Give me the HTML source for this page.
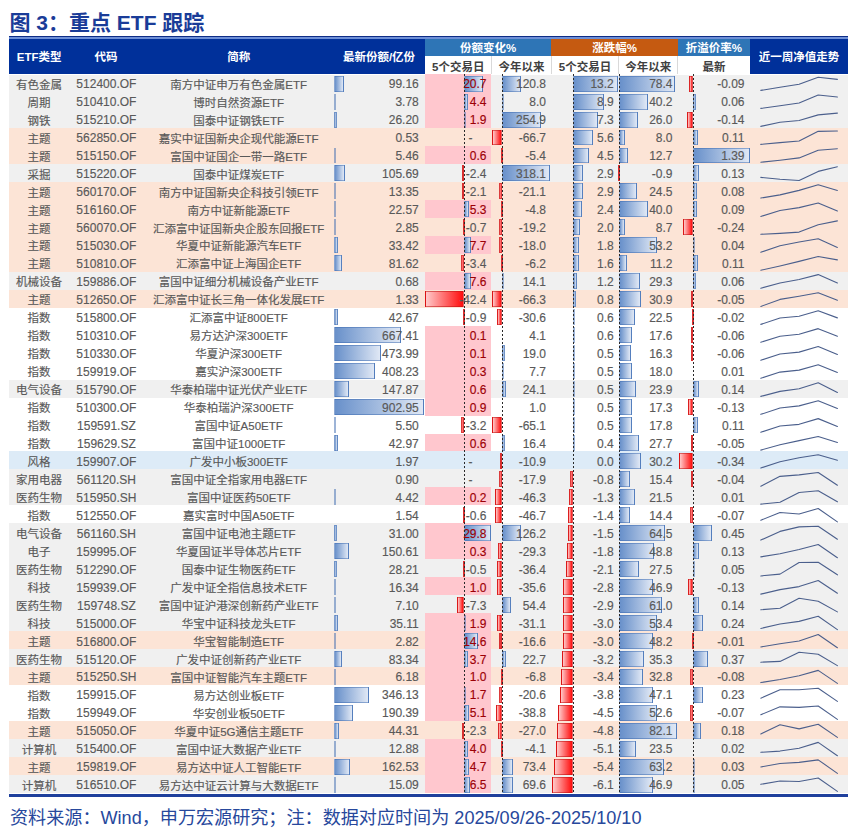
<!DOCTYPE html>
<html lang="zh-CN"><head><meta charset="utf-8"><title>图 3：重点 ETF 跟踪</title>
<style>
*{margin:0;padding:0;box-sizing:border-box}
html,body{width:864px;height:836px;background:#fff;overflow:hidden}
body{position:relative;font-family:"Liberation Sans","Noto Sans CJK SC",sans-serif;color:#595959}
.a{position:absolute}
.t{position:absolute;white-space:nowrap;font-size:12px;line-height:18px;height:18px;-webkit-text-stroke:0.15px currentColor}
.c{text-align:center}
.r{text-align:right}
.h{color:#fff;font-weight:bold;font-size:11.5px;white-space:nowrap;position:absolute;text-align:center}
.sh{color:#404040;font-weight:bold;font-size:11.5px;white-space:nowrap;position:absolute;text-align:center;line-height:17px}
.bp{position:absolute;border:1px solid rgba(60,105,175,.5);background:linear-gradient(to right,#6890ca,#e0e8f5)}
.bn{position:absolute;border:1px solid rgba(190,20,20,.55);background:linear-gradient(to right,#ffcaca,#ff0d0d)}
.ax{position:absolute;width:1px;background:repeating-linear-gradient(to bottom,#2a2a2a 0 2px,transparent 2px 4px)}
.pk{position:absolute;background:#ffc7ce}
.red{color:#9c0006}
</style></head><body>

<div class="a" style="left:9.5px;top:8.5px;font-size:21px;line-height:28px;font-weight:bold;color:#1a3c98;white-space:nowrap">图 3：重点 ETF 跟踪</div>
<div class="a" style="left:9px;top:36px;width:839px;height:1.4px;background:#0d2c86"></div>
<div class="a" style="left:9px;top:37.4px;width:839px;height:1.3px;background:#6e8fd6"></div>
<div class="a" style="left:9px;top:38.6px;width:416px;height:35.199999999999996px;background:#00309a"></div>
<div class="a" style="left:750px;top:38.6px;width:98px;height:35.199999999999996px;background:#00309a"></div>
<div class="a" style="left:425px;top:38.6px;width:126.4px;height:17.699999999999996px;background:#2e75b6"></div>
<div class="a" style="left:551.4px;top:38.6px;width:126.4px;height:17.699999999999996px;background:#c55a11"></div>
<div class="a" style="left:677.8px;top:38.6px;width:72.2px;height:17.699999999999996px;background:#2e75b6"></div>
<div class="a" style="left:425px;top:56.3px;width:325px;height:17.5px;background:#fff"></div>
<div class="a" style="left:490.8px;top:56.3px;width:1px;height:17.5px;background:#d9d9d9"></div>
<div class="a" style="left:550.9px;top:56.3px;width:1px;height:17.5px;background:#d9d9d9"></div>
<div class="a" style="left:618.0px;top:56.3px;width:1px;height:17.5px;background:#d9d9d9"></div>
<div class="a" style="left:677.3px;top:56.3px;width:1px;height:17.5px;background:#d9d9d9"></div>
<div class="h" style="left:-20.9px;top:48.1px;width:120px;line-height:18px">ETF类型</div>
<div class="h" style="left:46.0px;top:48.1px;width:120px;line-height:18px">代码</div>
<div class="h" style="left:178.7px;top:48.1px;width:120px;line-height:18px">简称</div>
<div class="h" style="left:319.0px;top:48.1px;width:120px;line-height:18px">最新份额/亿份</div>
<div class="h" style="left:739.0px;top:48.1px;width:120px;line-height:18px">近一周净值走势</div>
<div class="h" style="left:428.2px;top:39.35px;width:120px;line-height:18px">份额变化%</div>
<div class="h" style="left:554.6px;top:39.35px;width:120px;line-height:18px">涨跌幅%</div>
<div class="h" style="left:653.9px;top:39.35px;width:120px;line-height:18px">折溢价率%</div>
<div class="sh" style="left:398.2px;top:57.55px;width:120px;line-height:18px">5个交易日</div>
<div class="sh" style="left:461.4px;top:57.55px;width:120px;line-height:18px">今年以来</div>
<div class="sh" style="left:525.0px;top:57.55px;width:120px;line-height:18px">5个交易日</div>
<div class="sh" style="left:588.2px;top:57.55px;width:120px;line-height:18px">今年以来</div>
<div class="sh" style="left:653.9px;top:57.55px;width:120px;line-height:18px">最新</div>
<div class="a" style="left:9px;top:74.000px;width:839px;height:17.995px;background:#f0f0f0"></div>
<div class="pk" style="left:425px;top:74.000px;width:66.3px;height:17.995px"></div>
<div class="bp" style="left:334.20px;top:75.60px;width:9.88px;height:15.97px"></div>
<div class="bp" style="left:464px;top:75.60px;width:19.36px;height:15.97px"></div>
<div class="bp" style="left:502px;top:75.60px;width:18.54px;height:15.97px"></div>
<div class="bp" style="left:573px;top:75.60px;width:45.30px;height:15.97px"></div>
<div class="bp" style="left:619px;top:75.60px;width:55.81px;height:15.97px"></div>
<div class="bn" style="left:689.34px;top:75.60px;width:3.96px;height:15.97px"></div>
<div class="t c" style="left:-0.8999999999999986px;top:75.70px;width:80px;font-size:11.5px">有色金属</div>
<div class="t c" style="left:61.400000000000006px;top:75.30px;width:90px">512400.OF</div>
<div class="t c" style="left:138.7px;top:75.70px;width:200px;font-size:11.5px">南方中证申万有色金属ETF</div>
<div class="t r " style="left:338.8px;top:75.30px;width:80px">99.16</div>
<div class="t r red" style="left:406.5px;top:75.30px;width:80px">20.7</div>
<div class="t r " style="left:466.0px;top:75.30px;width:80px">120.8</div>
<div class="t r " style="left:533.8px;top:75.30px;width:80px">13.2</div>
<div class="t r " style="left:592.5px;top:75.30px;width:80px">78.4</div>
<div class="t r " style="left:664.5px;top:75.30px;width:80px">-0.09</div>
<div class="a" style="left:9px;top:91.975px;width:839px;height:17.995px;background:#f0f0f0"></div>
<div class="pk" style="left:425px;top:91.975px;width:66.3px;height:17.995px"></div>
<div class="bp" style="left:334.20px;top:93.57px;width:1.00px;height:15.97px"></div>
<div class="bp" style="left:464px;top:93.57px;width:4.35px;height:15.97px"></div>
<div class="bp" style="left:502px;top:93.57px;width:1.51px;height:15.97px"></div>
<div class="bp" style="left:573px;top:93.57px;width:30.83px;height:15.97px"></div>
<div class="bp" style="left:619px;top:93.57px;width:28.76px;height:15.97px"></div>
<div class="bp" style="left:693px;top:93.57px;width:2.74px;height:15.97px"></div>
<div class="t c" style="left:-0.8999999999999986px;top:93.67px;width:80px;font-size:11.5px">周期</div>
<div class="t c" style="left:61.400000000000006px;top:93.27px;width:90px">510410.OF</div>
<div class="t c" style="left:138.7px;top:93.67px;width:200px;font-size:11.5px">博时自然资源ETF</div>
<div class="t r " style="left:338.8px;top:93.27px;width:80px">3.78</div>
<div class="t r red" style="left:406.5px;top:93.27px;width:80px">4.4</div>
<div class="t r " style="left:466.0px;top:93.27px;width:80px">8.0</div>
<div class="t r " style="left:533.8px;top:93.27px;width:80px">8.9</div>
<div class="t r " style="left:592.5px;top:93.27px;width:80px">40.2</div>
<div class="t r " style="left:664.5px;top:93.27px;width:80px">0.06</div>
<div class="a" style="left:9px;top:109.950px;width:839px;height:17.995px;background:#f0f0f0"></div>
<div class="pk" style="left:425px;top:109.950px;width:66.3px;height:17.995px"></div>
<div class="bp" style="left:334.20px;top:111.55px;width:2.61px;height:15.97px"></div>
<div class="bp" style="left:464px;top:111.55px;width:2.05px;height:15.97px"></div>
<div class="bp" style="left:502px;top:111.55px;width:38.79px;height:15.97px"></div>
<div class="bp" style="left:573px;top:111.55px;width:25.34px;height:15.97px"></div>
<div class="bp" style="left:619px;top:111.55px;width:18.71px;height:15.97px"></div>
<div class="bn" style="left:687.30px;top:111.55px;width:6.00px;height:15.97px"></div>
<div class="t c" style="left:-0.8999999999999986px;top:111.65px;width:80px;font-size:11.5px">钢铁</div>
<div class="t c" style="left:61.400000000000006px;top:111.25px;width:90px">515210.OF</div>
<div class="t c" style="left:138.7px;top:111.65px;width:200px;font-size:11.5px">国泰中证钢铁ETF</div>
<div class="t r " style="left:338.8px;top:111.25px;width:80px">26.20</div>
<div class="t r red" style="left:406.5px;top:111.25px;width:80px">1.9</div>
<div class="t r " style="left:466.0px;top:111.25px;width:80px">254.9</div>
<div class="t r " style="left:533.8px;top:111.25px;width:80px">7.3</div>
<div class="t r " style="left:592.5px;top:111.25px;width:80px">26.0</div>
<div class="t r " style="left:664.5px;top:111.25px;width:80px">-0.14</div>
<div class="a" style="left:9px;top:127.925px;width:839px;height:17.995px;background:#fce4d6"></div>
<div class="bn" style="left:491.93px;top:129.53px;width:10.37px;height:15.97px"></div>
<div class="bp" style="left:573px;top:129.53px;width:19.51px;height:15.97px"></div>
<div class="bp" style="left:619px;top:129.53px;width:5.96px;height:15.97px"></div>
<div class="bp" style="left:693px;top:129.53px;width:4.78px;height:15.97px"></div>
<div class="t c" style="left:-0.8999999999999986px;top:129.63px;width:80px;font-size:11.5px">主题</div>
<div class="t c" style="left:61.400000000000006px;top:129.23px;width:90px">562850.OF</div>
<div class="t c" style="left:138.7px;top:129.63px;width:200px;font-size:11.5px">嘉实中证国新央企现代能源ETF</div>
<div class="t r " style="left:338.8px;top:129.23px;width:80px">0.53</div>
<div class="t c" style="left:460.5px;top:129.23px;width:20px">-</div>
<div class="t r " style="left:466.0px;top:129.23px;width:80px">-66.7</div>
<div class="t r " style="left:533.8px;top:129.23px;width:80px">5.6</div>
<div class="t r " style="left:592.5px;top:129.23px;width:80px">8.0</div>
<div class="t r " style="left:664.5px;top:129.23px;width:80px">0.11</div>
<div class="a" style="left:9px;top:145.900px;width:839px;height:17.995px;background:#fce4d6"></div>
<div class="pk" style="left:425px;top:145.900px;width:66.3px;height:17.995px"></div>
<div class="bp" style="left:334.20px;top:147.50px;width:1.00px;height:15.97px"></div>
<div class="bn" style="left:501.18px;top:147.50px;width:1.12px;height:15.97px;background:#e8393d;border-color:#d83030"></div>
<div class="bp" style="left:573px;top:147.50px;width:15.74px;height:15.97px"></div>
<div class="bp" style="left:619px;top:147.50px;width:9.29px;height:15.97px"></div>
<div class="bp" style="left:693px;top:147.50px;width:56.87px;height:15.97px"></div>
<div class="t c" style="left:-0.8999999999999986px;top:147.60px;width:80px;font-size:11.5px">主题</div>
<div class="t c" style="left:61.400000000000006px;top:147.20px;width:90px">515150.OF</div>
<div class="t c" style="left:138.7px;top:147.60px;width:200px;font-size:11.5px">富国中证国企一带一路ETF</div>
<div class="t r " style="left:338.8px;top:147.20px;width:80px">5.46</div>
<div class="t r red" style="left:406.5px;top:147.20px;width:80px">0.6</div>
<div class="t r " style="left:466.0px;top:147.20px;width:80px">-5.4</div>
<div class="t r " style="left:533.8px;top:147.20px;width:80px">4.5</div>
<div class="t r " style="left:592.5px;top:147.20px;width:80px">12.7</div>
<div class="t r " style="left:664.5px;top:147.20px;width:80px">1.39</div>
<div class="a" style="left:9px;top:163.875px;width:839px;height:17.995px;background:#f0f0f0"></div>
<div class="bp" style="left:334.20px;top:165.47px;width:10.53px;height:15.97px"></div>
<div class="bn" style="left:461.79px;top:165.47px;width:2.51px;height:15.97px;background:#e8393d;border-color:#d83030"></div>
<div class="bp" style="left:502px;top:165.47px;width:48.33px;height:15.97px"></div>
<div class="bp" style="left:573px;top:165.47px;width:10.25px;height:15.97px"></div>
<div class="bn" style="left:618.30px;top:165.47px;width:1.00px;height:15.97px;background:#e8393d;border-color:#d83030"></div>
<div class="bp" style="left:693px;top:165.47px;width:5.59px;height:15.97px"></div>
<div class="t c" style="left:-0.8999999999999986px;top:165.58px;width:80px;font-size:11.5px">采掘</div>
<div class="t c" style="left:61.400000000000006px;top:165.18px;width:90px">515220.OF</div>
<div class="t c" style="left:138.7px;top:165.58px;width:200px;font-size:11.5px">国泰中证煤炭ETF</div>
<div class="t r " style="left:338.8px;top:165.18px;width:80px">105.69</div>
<div class="t r " style="left:406.5px;top:165.18px;width:80px">-2.4</div>
<div class="t r " style="left:466.0px;top:165.18px;width:80px">318.1</div>
<div class="t r " style="left:533.8px;top:165.18px;width:80px">2.9</div>
<div class="t r " style="left:592.5px;top:165.18px;width:80px">-0.9</div>
<div class="t r " style="left:664.5px;top:165.18px;width:80px">0.13</div>
<div class="a" style="left:9px;top:181.850px;width:839px;height:17.995px;background:#fce4d6"></div>
<div class="bp" style="left:334.20px;top:183.45px;width:1.33px;height:15.97px"></div>
<div class="bn" style="left:462.07px;top:183.45px;width:2.23px;height:15.97px;background:#e8393d;border-color:#d83030"></div>
<div class="bn" style="left:498.81px;top:183.45px;width:3.49px;height:15.97px"></div>
<div class="bp" style="left:573px;top:183.45px;width:10.25px;height:15.97px"></div>
<div class="bp" style="left:619px;top:183.45px;width:17.65px;height:15.97px"></div>
<div class="bp" style="left:693px;top:183.45px;width:3.56px;height:15.97px"></div>
<div class="t c" style="left:-0.8999999999999986px;top:183.55px;width:80px;font-size:11.5px">主题</div>
<div class="t c" style="left:61.400000000000006px;top:183.15px;width:90px">560170.OF</div>
<div class="t c" style="left:138.7px;top:183.55px;width:200px;font-size:11.5px">南方中证国新央企科技引领ETF</div>
<div class="t r " style="left:338.8px;top:183.15px;width:80px">13.35</div>
<div class="t r " style="left:406.5px;top:183.15px;width:80px">-2.1</div>
<div class="t r " style="left:466.0px;top:183.15px;width:80px">-21.1</div>
<div class="t r " style="left:533.8px;top:183.15px;width:80px">2.9</div>
<div class="t r " style="left:592.5px;top:183.15px;width:80px">24.5</div>
<div class="t r " style="left:664.5px;top:183.15px;width:80px">0.08</div>
<div class="a" style="left:9px;top:199.825px;width:839px;height:17.995px;background:#fce4d6"></div>
<div class="pk" style="left:425px;top:199.825px;width:66.3px;height:17.995px"></div>
<div class="bp" style="left:334.20px;top:201.43px;width:2.25px;height:15.97px"></div>
<div class="bp" style="left:464px;top:201.43px;width:5.18px;height:15.97px"></div>
<div class="bn" style="left:501.28px;top:201.43px;width:1.02px;height:15.97px;background:#e8393d;border-color:#d83030"></div>
<div class="bp" style="left:573px;top:201.43px;width:8.53px;height:15.97px"></div>
<div class="bp" style="left:619px;top:201.43px;width:28.62px;height:15.97px"></div>
<div class="bp" style="left:693px;top:201.43px;width:3.96px;height:15.97px"></div>
<div class="t c" style="left:-0.8999999999999986px;top:201.53px;width:80px;font-size:11.5px">主题</div>
<div class="t c" style="left:61.400000000000006px;top:201.13px;width:90px">516160.OF</div>
<div class="t c" style="left:138.7px;top:201.53px;width:200px;font-size:11.5px">南方中证新能源ETF</div>
<div class="t r " style="left:338.8px;top:201.13px;width:80px">22.57</div>
<div class="t r red" style="left:406.5px;top:201.13px;width:80px">5.3</div>
<div class="t r " style="left:466.0px;top:201.13px;width:80px">-4.8</div>
<div class="t r " style="left:533.8px;top:201.13px;width:80px">2.4</div>
<div class="t r " style="left:592.5px;top:201.13px;width:80px">40.0</div>
<div class="t r " style="left:664.5px;top:201.13px;width:80px">0.09</div>
<div class="a" style="left:9px;top:217.800px;width:839px;height:17.995px;background:#fce4d6"></div>
<div class="bp" style="left:334.20px;top:219.40px;width:1.00px;height:15.97px"></div>
<div class="bn" style="left:463.30px;top:219.40px;width:1.00px;height:15.97px;background:#e8393d;border-color:#d83030"></div>
<div class="bn" style="left:499.10px;top:219.40px;width:3.20px;height:15.97px"></div>
<div class="bp" style="left:573px;top:219.40px;width:7.16px;height:15.97px"></div>
<div class="bp" style="left:619px;top:219.40px;width:6.46px;height:15.97px"></div>
<div class="bn" style="left:683.23px;top:219.40px;width:10.07px;height:15.97px"></div>
<div class="t c" style="left:-0.8999999999999986px;top:219.50px;width:80px;font-size:11.5px">主题</div>
<div class="t c" style="left:61.400000000000006px;top:219.10px;width:90px">560070.OF</div>
<div class="t c" style="left:138.7px;top:219.50px;width:200px;font-size:11.5px">汇添富中证国新央企股东回报ETF</div>
<div class="t r " style="left:338.8px;top:219.10px;width:80px">2.85</div>
<div class="t r " style="left:406.5px;top:219.10px;width:80px">-0.7</div>
<div class="t r " style="left:466.0px;top:219.10px;width:80px">-19.2</div>
<div class="t r " style="left:533.8px;top:219.10px;width:80px">2.0</div>
<div class="t r " style="left:592.5px;top:219.10px;width:80px">8.7</div>
<div class="t r " style="left:664.5px;top:219.10px;width:80px">-0.24</div>
<div class="a" style="left:9px;top:235.775px;width:839px;height:17.995px;background:#fce4d6"></div>
<div class="pk" style="left:425px;top:235.775px;width:66.3px;height:17.995px"></div>
<div class="bp" style="left:334.20px;top:237.38px;width:3.33px;height:15.97px"></div>
<div class="bp" style="left:464px;top:237.38px;width:7.39px;height:15.97px"></div>
<div class="bn" style="left:499.28px;top:237.38px;width:3.02px;height:15.97px"></div>
<div class="bp" style="left:573px;top:237.38px;width:6.47px;height:15.97px"></div>
<div class="bp" style="left:619px;top:237.38px;width:37.97px;height:15.97px"></div>
<div class="bp" style="left:693px;top:237.38px;width:1.93px;height:15.97px"></div>
<div class="t c" style="left:-0.8999999999999986px;top:237.48px;width:80px;font-size:11.5px">主题</div>
<div class="t c" style="left:61.400000000000006px;top:237.08px;width:90px">515030.OF</div>
<div class="t c" style="left:138.7px;top:237.48px;width:200px;font-size:11.5px">华夏中证新能源汽车ETF</div>
<div class="t r " style="left:338.8px;top:237.08px;width:80px">33.42</div>
<div class="t r red" style="left:406.5px;top:237.08px;width:80px">7.7</div>
<div class="t r " style="left:466.0px;top:237.08px;width:80px">-18.0</div>
<div class="t r " style="left:533.8px;top:237.08px;width:80px">1.8</div>
<div class="t r " style="left:592.5px;top:237.08px;width:80px">53.2</div>
<div class="t r " style="left:664.5px;top:237.08px;width:80px">0.04</div>
<div class="a" style="left:9px;top:253.750px;width:839px;height:17.995px;background:#fce4d6"></div>
<div class="bp" style="left:334.20px;top:255.35px;width:8.14px;height:15.97px"></div>
<div class="bn" style="left:460.87px;top:255.35px;width:3.43px;height:15.97px"></div>
<div class="bn" style="left:501.06px;top:255.35px;width:1.24px;height:15.97px;background:#e8393d;border-color:#d83030"></div>
<div class="bp" style="left:573px;top:255.35px;width:5.79px;height:15.97px"></div>
<div class="bp" style="left:619px;top:255.35px;width:8.23px;height:15.97px"></div>
<div class="bp" style="left:693px;top:255.35px;width:4.78px;height:15.97px"></div>
<div class="t c" style="left:-0.8999999999999986px;top:255.45px;width:80px;font-size:11.5px">主题</div>
<div class="t c" style="left:61.400000000000006px;top:255.05px;width:90px">510810.OF</div>
<div class="t c" style="left:138.7px;top:255.45px;width:200px;font-size:11.5px">汇添富中证上海国企ETF</div>
<div class="t r " style="left:338.8px;top:255.05px;width:80px">81.62</div>
<div class="t r " style="left:406.5px;top:255.05px;width:80px">-3.4</div>
<div class="t r " style="left:466.0px;top:255.05px;width:80px">-6.2</div>
<div class="t r " style="left:533.8px;top:255.05px;width:80px">1.6</div>
<div class="t r " style="left:592.5px;top:255.05px;width:80px">11.2</div>
<div class="t r " style="left:664.5px;top:255.05px;width:80px">0.11</div>
<div class="a" style="left:9px;top:271.725px;width:839px;height:17.995px;background:#f0f0f0"></div>
<div class="pk" style="left:425px;top:271.725px;width:66.3px;height:17.995px"></div>
<div class="bp" style="left:464px;top:273.33px;width:7.30px;height:15.97px"></div>
<div class="bp" style="left:502px;top:273.33px;width:2.43px;height:15.97px"></div>
<div class="bp" style="left:573px;top:273.33px;width:4.42px;height:15.97px"></div>
<div class="bp" style="left:619px;top:273.33px;width:21.04px;height:15.97px"></div>
<div class="bp" style="left:693px;top:273.33px;width:2.74px;height:15.97px"></div>
<div class="t c" style="left:-0.8999999999999986px;top:273.43px;width:80px;font-size:11.5px">机械设备</div>
<div class="t c" style="left:61.400000000000006px;top:273.03px;width:90px">159886.OF</div>
<div class="t c" style="left:138.7px;top:273.43px;width:200px;font-size:11.5px">富国中证细分机械设备产业ETF</div>
<div class="t r " style="left:338.8px;top:273.03px;width:80px">0.68</div>
<div class="t r red" style="left:406.5px;top:273.03px;width:80px">7.6</div>
<div class="t r " style="left:466.0px;top:273.03px;width:80px">14.1</div>
<div class="t r " style="left:533.8px;top:273.03px;width:80px">1.2</div>
<div class="t r " style="left:592.5px;top:273.03px;width:80px">29.3</div>
<div class="t r " style="left:664.5px;top:273.03px;width:80px">0.06</div>
<div class="a" style="left:9px;top:289.700px;width:839px;height:17.995px;background:#fce4d6"></div>
<div class="bn" style="left:424.95px;top:291.30px;width:39.35px;height:15.97px"></div>
<div class="bn" style="left:491.99px;top:291.30px;width:10.31px;height:15.97px"></div>
<div class="bp" style="left:573px;top:291.30px;width:3.04px;height:15.97px"></div>
<div class="bp" style="left:619px;top:291.30px;width:22.18px;height:15.97px"></div>
<div class="bn" style="left:690.96px;top:291.30px;width:2.33px;height:15.97px;background:#e8393d;border-color:#d83030"></div>
<div class="t c" style="left:-0.8999999999999986px;top:291.40px;width:80px;font-size:11.5px">主题</div>
<div class="t c" style="left:61.400000000000006px;top:291.00px;width:90px">512650.OF</div>
<div class="t c" style="left:138.7px;top:291.40px;width:200px;font-size:11.5px">汇添富中证长三角一体化发展ETF</div>
<div class="t r " style="left:338.8px;top:291.00px;width:80px">1.33</div>
<div class="t r " style="left:406.5px;top:291.00px;width:80px">-42.4</div>
<div class="t r " style="left:466.0px;top:291.00px;width:80px">-66.3</div>
<div class="t r " style="left:533.8px;top:291.00px;width:80px">0.8</div>
<div class="t r " style="left:592.5px;top:291.00px;width:80px">30.9</div>
<div class="t r " style="left:664.5px;top:291.00px;width:80px">-0.05</div>
<div class="a" style="left:9px;top:307.675px;width:839px;height:17.995px;background:#ffffff"></div>
<div class="bp" style="left:334.20px;top:309.28px;width:4.25px;height:15.97px"></div>
<div class="bn" style="left:463.17px;top:309.28px;width:1.13px;height:15.97px;background:#e8393d;border-color:#d83030"></div>
<div class="bn" style="left:497.38px;top:309.28px;width:4.92px;height:15.97px"></div>
<div class="bp" style="left:573px;top:309.28px;width:2.36px;height:15.97px"></div>
<div class="bp" style="left:619px;top:309.28px;width:16.23px;height:15.97px"></div>
<div class="bn" style="left:692.19px;top:309.28px;width:1.11px;height:15.97px;background:#e8393d;border-color:#d83030"></div>
<div class="t c" style="left:-0.8999999999999986px;top:309.38px;width:80px;font-size:11.5px">指数</div>
<div class="t c" style="left:61.400000000000006px;top:308.98px;width:90px">515800.OF</div>
<div class="t c" style="left:138.7px;top:309.38px;width:200px;font-size:11.5px">汇添富中证800ETF</div>
<div class="t r " style="left:338.8px;top:308.98px;width:80px">42.67</div>
<div class="t r " style="left:406.5px;top:308.98px;width:80px">-0.9</div>
<div class="t r " style="left:466.0px;top:308.98px;width:80px">-30.6</div>
<div class="t r " style="left:533.8px;top:308.98px;width:80px">0.6</div>
<div class="t r " style="left:592.5px;top:308.98px;width:80px">22.5</div>
<div class="t r " style="left:664.5px;top:308.98px;width:80px">-0.02</div>
<div class="a" style="left:9px;top:325.650px;width:839px;height:17.995px;background:#ffffff"></div>
<div class="pk" style="left:425px;top:325.650px;width:66.3px;height:17.995px"></div>
<div class="bp" style="left:334.20px;top:327.25px;width:66.52px;height:15.97px"></div>
<div class="bp" style="left:573px;top:327.25px;width:2.36px;height:15.97px"></div>
<div class="bp" style="left:619px;top:327.25px;width:12.76px;height:15.97px"></div>
<div class="bn" style="left:690.56px;top:327.25px;width:2.74px;height:15.97px;background:#e8393d;border-color:#d83030"></div>
<div class="t c" style="left:-0.8999999999999986px;top:327.35px;width:80px;font-size:11.5px">指数</div>
<div class="t c" style="left:61.400000000000006px;top:326.95px;width:90px">510310.OF</div>
<div class="t c" style="left:138.7px;top:327.35px;width:200px;font-size:11.5px">易方达沪深300ETF</div>
<div class="t r " style="left:338.8px;top:326.95px;width:80px">667.41</div>
<div class="t r red" style="left:406.5px;top:326.95px;width:80px">0.1</div>
<div class="t r " style="left:466.0px;top:326.95px;width:80px">4.1</div>
<div class="t r " style="left:533.8px;top:326.95px;width:80px">0.6</div>
<div class="t r " style="left:592.5px;top:326.95px;width:80px">17.6</div>
<div class="t r " style="left:664.5px;top:326.95px;width:80px">-0.06</div>
<div class="a" style="left:9px;top:343.625px;width:839px;height:17.995px;background:#ffffff"></div>
<div class="pk" style="left:425px;top:343.625px;width:66.3px;height:17.995px"></div>
<div class="bp" style="left:334.20px;top:345.23px;width:47.24px;height:15.97px"></div>
<div class="bp" style="left:502px;top:345.23px;width:3.17px;height:15.97px"></div>
<div class="bp" style="left:573px;top:345.23px;width:2.02px;height:15.97px"></div>
<div class="bp" style="left:619px;top:345.23px;width:11.84px;height:15.97px"></div>
<div class="bn" style="left:690.56px;top:345.23px;width:2.74px;height:15.97px;background:#e8393d;border-color:#d83030"></div>
<div class="t c" style="left:-0.8999999999999986px;top:345.32px;width:80px;font-size:11.5px">指数</div>
<div class="t c" style="left:61.400000000000006px;top:344.93px;width:90px">510330.OF</div>
<div class="t c" style="left:138.7px;top:345.32px;width:200px;font-size:11.5px">华夏沪深300ETF</div>
<div class="t r " style="left:338.8px;top:344.93px;width:80px">473.99</div>
<div class="t r red" style="left:406.5px;top:344.93px;width:80px">0.1</div>
<div class="t r " style="left:466.0px;top:344.93px;width:80px">19.0</div>
<div class="t r " style="left:533.8px;top:344.93px;width:80px">0.5</div>
<div class="t r " style="left:592.5px;top:344.93px;width:80px">16.3</div>
<div class="t r " style="left:664.5px;top:344.93px;width:80px">-0.06</div>
<div class="a" style="left:9px;top:361.600px;width:839px;height:17.995px;background:#ffffff"></div>
<div class="pk" style="left:425px;top:361.600px;width:66.3px;height:17.995px"></div>
<div class="bp" style="left:334.20px;top:363.20px;width:40.69px;height:15.97px"></div>
<div class="bp" style="left:502px;top:363.20px;width:1.46px;height:15.97px"></div>
<div class="bp" style="left:573px;top:363.20px;width:2.02px;height:15.97px"></div>
<div class="bp" style="left:619px;top:363.20px;width:13.04px;height:15.97px"></div>
<div class="t c" style="left:-0.8999999999999986px;top:363.30px;width:80px;font-size:11.5px">指数</div>
<div class="t c" style="left:61.400000000000006px;top:362.90px;width:90px">159919.OF</div>
<div class="t c" style="left:138.7px;top:363.30px;width:200px;font-size:11.5px">嘉实沪深300ETF</div>
<div class="t r " style="left:338.8px;top:362.90px;width:80px">408.23</div>
<div class="t r red" style="left:406.5px;top:362.90px;width:80px">0.3</div>
<div class="t r " style="left:466.0px;top:362.90px;width:80px">7.7</div>
<div class="t r " style="left:533.8px;top:362.90px;width:80px">0.5</div>
<div class="t r " style="left:592.5px;top:362.90px;width:80px">18.0</div>
<div class="t r " style="left:664.5px;top:362.90px;width:80px">0.01</div>
<div class="a" style="left:9px;top:379.575px;width:839px;height:17.995px;background:#f0f0f0"></div>
<div class="pk" style="left:425px;top:379.575px;width:66.3px;height:17.995px"></div>
<div class="bp" style="left:334.20px;top:381.18px;width:14.74px;height:15.97px"></div>
<div class="bp" style="left:502px;top:381.18px;width:3.94px;height:15.97px"></div>
<div class="bp" style="left:573px;top:381.18px;width:2.02px;height:15.97px"></div>
<div class="bp" style="left:619px;top:381.18px;width:17.22px;height:15.97px"></div>
<div class="bp" style="left:693px;top:381.18px;width:6.00px;height:15.97px"></div>
<div class="t c" style="left:-0.8999999999999986px;top:381.28px;width:80px;font-size:11.5px">电气设备</div>
<div class="t c" style="left:61.400000000000006px;top:380.88px;width:90px">515790.OF</div>
<div class="t c" style="left:138.7px;top:381.28px;width:200px;font-size:11.5px">华泰柏瑞中证光伏产业ETF</div>
<div class="t r " style="left:338.8px;top:380.88px;width:80px">147.87</div>
<div class="t r red" style="left:406.5px;top:380.88px;width:80px">0.6</div>
<div class="t r " style="left:466.0px;top:380.88px;width:80px">24.1</div>
<div class="t r " style="left:533.8px;top:380.88px;width:80px">0.5</div>
<div class="t r " style="left:592.5px;top:380.88px;width:80px">23.9</div>
<div class="t r " style="left:664.5px;top:380.88px;width:80px">0.14</div>
<div class="a" style="left:9px;top:397.550px;width:839px;height:17.995px;background:#ffffff"></div>
<div class="pk" style="left:425px;top:397.550px;width:66.3px;height:17.995px"></div>
<div class="bp" style="left:334.20px;top:399.15px;width:90.00px;height:15.97px"></div>
<div class="bp" style="left:573px;top:399.15px;width:2.02px;height:15.97px"></div>
<div class="bp" style="left:619px;top:399.15px;width:12.55px;height:15.97px"></div>
<div class="bn" style="left:687.71px;top:399.15px;width:5.59px;height:15.97px"></div>
<div class="t c" style="left:-0.8999999999999986px;top:399.25px;width:80px;font-size:11.5px">指数</div>
<div class="t c" style="left:61.400000000000006px;top:398.85px;width:90px">510300.OF</div>
<div class="t c" style="left:138.7px;top:399.25px;width:200px;font-size:11.5px">华泰柏瑞沪深300ETF</div>
<div class="t r " style="left:338.8px;top:398.85px;width:80px">902.95</div>
<div class="t r red" style="left:406.5px;top:398.85px;width:80px">0.9</div>
<div class="t r " style="left:466.0px;top:398.85px;width:80px">1.0</div>
<div class="t r " style="left:533.8px;top:398.85px;width:80px">0.5</div>
<div class="t r " style="left:592.5px;top:398.85px;width:80px">17.3</div>
<div class="t r " style="left:664.5px;top:398.85px;width:80px">-0.13</div>
<div class="a" style="left:9px;top:415.525px;width:839px;height:17.995px;background:#ffffff"></div>
<div class="bp" style="left:334.20px;top:417.13px;width:1.00px;height:15.97px"></div>
<div class="bn" style="left:461.05px;top:417.13px;width:3.25px;height:15.97px"></div>
<div class="bn" style="left:492.17px;top:417.13px;width:10.13px;height:15.97px"></div>
<div class="bp" style="left:573px;top:417.13px;width:2.02px;height:15.97px"></div>
<div class="bp" style="left:619px;top:417.13px;width:12.90px;height:15.97px"></div>
<div class="bp" style="left:693px;top:417.13px;width:4.78px;height:15.97px"></div>
<div class="t c" style="left:-0.8999999999999986px;top:417.23px;width:80px;font-size:11.5px">指数</div>
<div class="t c" style="left:61.400000000000006px;top:416.83px;width:90px">159591.SZ</div>
<div class="t c" style="left:138.7px;top:417.23px;width:200px;font-size:11.5px">富国中证A50ETF</div>
<div class="t r " style="left:338.8px;top:416.83px;width:80px">5.50</div>
<div class="t r " style="left:406.5px;top:416.83px;width:80px">-3.2</div>
<div class="t r " style="left:466.0px;top:416.83px;width:80px">-65.1</div>
<div class="t r " style="left:533.8px;top:416.83px;width:80px">0.5</div>
<div class="t r " style="left:592.5px;top:416.83px;width:80px">17.8</div>
<div class="t r " style="left:664.5px;top:416.83px;width:80px">0.11</div>
<div class="a" style="left:9px;top:433.500px;width:839px;height:17.995px;background:#ffffff"></div>
<div class="pk" style="left:425px;top:433.500px;width:66.3px;height:17.995px"></div>
<div class="bp" style="left:334.20px;top:435.10px;width:4.28px;height:15.97px"></div>
<div class="bp" style="left:502px;top:435.10px;width:2.78px;height:15.97px"></div>
<div class="bp" style="left:573px;top:435.10px;width:1.67px;height:15.97px"></div>
<div class="bp" style="left:619px;top:435.10px;width:19.91px;height:15.97px"></div>
<div class="bn" style="left:690.96px;top:435.10px;width:2.33px;height:15.97px;background:#e8393d;border-color:#d83030"></div>
<div class="t c" style="left:-0.8999999999999986px;top:435.20px;width:80px;font-size:11.5px">指数</div>
<div class="t c" style="left:61.400000000000006px;top:434.80px;width:90px">159629.SZ</div>
<div class="t c" style="left:138.7px;top:435.20px;width:200px;font-size:11.5px">富国中证1000ETF</div>
<div class="t r " style="left:338.8px;top:434.80px;width:80px">42.97</div>
<div class="t r red" style="left:406.5px;top:434.80px;width:80px">0.6</div>
<div class="t r " style="left:466.0px;top:434.80px;width:80px">16.4</div>
<div class="t r " style="left:533.8px;top:434.80px;width:80px">0.4</div>
<div class="t r " style="left:592.5px;top:434.80px;width:80px">27.7</div>
<div class="t r " style="left:664.5px;top:434.80px;width:80px">-0.05</div>
<div class="a" style="left:9px;top:451.475px;width:839px;height:17.995px;background:#ddebf7"></div>
<div class="bn" style="left:500.35px;top:453.08px;width:1.95px;height:15.97px;background:#e8393d;border-color:#d83030"></div>
<div class="bp" style="left:619px;top:453.08px;width:21.68px;height:15.97px"></div>
<div class="bn" style="left:679.16px;top:453.08px;width:14.14px;height:15.97px"></div>
<div class="t c" style="left:-0.8999999999999986px;top:453.18px;width:80px;font-size:11.5px">风格</div>
<div class="t c" style="left:61.400000000000006px;top:452.78px;width:90px">159907.OF</div>
<div class="t c" style="left:138.7px;top:453.18px;width:200px;font-size:11.5px">广发中小板300ETF</div>
<div class="t r " style="left:338.8px;top:452.78px;width:80px">1.97</div>
<div class="t c" style="left:460.5px;top:452.78px;width:20px">-</div>
<div class="t r " style="left:466.0px;top:452.78px;width:80px">-10.9</div>
<div class="t r " style="left:533.8px;top:452.78px;width:80px">0.0</div>
<div class="t r " style="left:592.5px;top:452.78px;width:80px">30.2</div>
<div class="t r " style="left:664.5px;top:452.78px;width:80px">-0.34</div>
<div class="a" style="left:9px;top:469.450px;width:839px;height:17.995px;background:#f0f0f0"></div>
<div class="bn" style="left:499.30px;top:471.05px;width:3.00px;height:15.97px"></div>
<div class="bn" style="left:570.26px;top:471.05px;width:3.04px;height:15.97px"></div>
<div class="bp" style="left:619px;top:471.05px;width:11.20px;height:15.97px"></div>
<div class="bn" style="left:691.37px;top:471.05px;width:1.93px;height:15.97px;background:#e8393d;border-color:#d83030"></div>
<div class="t c" style="left:-0.8999999999999986px;top:471.15px;width:80px;font-size:11.5px">家用电器</div>
<div class="t c" style="left:61.400000000000006px;top:470.75px;width:90px">561120.SH</div>
<div class="t c" style="left:138.7px;top:471.15px;width:200px;font-size:11.5px">富国中证全指家用电器ETF</div>
<div class="t r " style="left:338.8px;top:470.75px;width:80px">0.90</div>
<div class="t c" style="left:460.5px;top:470.75px;width:20px">-</div>
<div class="t r " style="left:466.0px;top:470.75px;width:80px">-17.9</div>
<div class="t r " style="left:533.8px;top:470.75px;width:80px">-0.8</div>
<div class="t r " style="left:592.5px;top:470.75px;width:80px">15.4</div>
<div class="t r " style="left:664.5px;top:470.75px;width:80px">-0.04</div>
<div class="a" style="left:9px;top:487.425px;width:839px;height:17.995px;background:#f0f0f0"></div>
<div class="pk" style="left:425px;top:487.425px;width:66.3px;height:17.995px"></div>
<div class="bp" style="left:334.20px;top:489.03px;width:1.00px;height:15.97px"></div>
<div class="bn" style="left:495.01px;top:489.03px;width:7.29px;height:15.97px"></div>
<div class="bn" style="left:568.54px;top:489.03px;width:4.76px;height:15.97px"></div>
<div class="bp" style="left:619px;top:489.03px;width:15.52px;height:15.97px"></div>
<div class="t c" style="left:-0.8999999999999986px;top:489.12px;width:80px;font-size:11.5px">医药生物</div>
<div class="t c" style="left:61.400000000000006px;top:488.73px;width:90px">515950.SH</div>
<div class="t c" style="left:138.7px;top:489.12px;width:200px;font-size:11.5px">富国中证医药50ETF</div>
<div class="t r " style="left:338.8px;top:488.73px;width:80px">4.42</div>
<div class="t r red" style="left:406.5px;top:488.73px;width:80px">0.2</div>
<div class="t r " style="left:466.0px;top:488.73px;width:80px">-46.3</div>
<div class="t r " style="left:533.8px;top:488.73px;width:80px">-1.3</div>
<div class="t r " style="left:592.5px;top:488.73px;width:80px">21.5</div>
<div class="t r " style="left:664.5px;top:488.73px;width:80px">0.01</div>
<div class="a" style="left:9px;top:505.400px;width:839px;height:17.995px;background:#ffffff"></div>
<div class="bn" style="left:463.30px;top:507.00px;width:1.00px;height:15.97px;background:#e8393d;border-color:#d83030"></div>
<div class="bn" style="left:494.95px;top:507.00px;width:7.35px;height:15.97px"></div>
<div class="bn" style="left:568.20px;top:507.00px;width:5.10px;height:15.97px"></div>
<div class="bp" style="left:619px;top:507.00px;width:10.50px;height:15.97px"></div>
<div class="bn" style="left:690.15px;top:507.00px;width:3.15px;height:15.97px"></div>
<div class="t c" style="left:-0.8999999999999986px;top:507.10px;width:80px;font-size:11.5px">指数</div>
<div class="t c" style="left:61.400000000000006px;top:506.70px;width:90px">512550.OF</div>
<div class="t c" style="left:138.7px;top:507.10px;width:200px;font-size:11.5px">嘉实富时中国A50ETF</div>
<div class="t r " style="left:338.8px;top:506.70px;width:80px">1.54</div>
<div class="t r " style="left:406.5px;top:506.70px;width:80px">-0.6</div>
<div class="t r " style="left:466.0px;top:506.70px;width:80px">-46.7</div>
<div class="t r " style="left:533.8px;top:506.70px;width:80px">-1.4</div>
<div class="t r " style="left:592.5px;top:506.70px;width:80px">14.4</div>
<div class="t r " style="left:664.5px;top:506.70px;width:80px">-0.07</div>
<div class="a" style="left:9px;top:523.375px;width:839px;height:17.995px;background:#f0f0f0"></div>
<div class="pk" style="left:425px;top:523.375px;width:66.3px;height:17.995px"></div>
<div class="bp" style="left:334.20px;top:524.98px;width:3.09px;height:15.97px"></div>
<div class="bp" style="left:464px;top:524.98px;width:27.20px;height:15.97px"></div>
<div class="bp" style="left:502px;top:524.98px;width:19.36px;height:15.97px"></div>
<div class="bn" style="left:567.85px;top:524.98px;width:5.45px;height:15.97px"></div>
<div class="bp" style="left:619px;top:524.98px;width:45.97px;height:15.97px"></div>
<div class="bp" style="left:693px;top:524.98px;width:18.62px;height:15.97px"></div>
<div class="t c" style="left:-0.8999999999999986px;top:525.07px;width:80px;font-size:11.5px">电气设备</div>
<div class="t c" style="left:61.400000000000006px;top:524.67px;width:90px">561160.SH</div>
<div class="t c" style="left:138.7px;top:525.07px;width:200px;font-size:11.5px">富国中证电池主题ETF</div>
<div class="t r " style="left:338.8px;top:524.67px;width:80px">31.00</div>
<div class="t r red" style="left:406.5px;top:524.67px;width:80px">29.8</div>
<div class="t r " style="left:466.0px;top:524.67px;width:80px">126.2</div>
<div class="t r " style="left:533.8px;top:524.67px;width:80px">-1.5</div>
<div class="t r " style="left:592.5px;top:524.67px;width:80px">64.5</div>
<div class="t r " style="left:664.5px;top:524.67px;width:80px">0.45</div>
<div class="a" style="left:9px;top:541.350px;width:839px;height:17.995px;background:#f0f0f0"></div>
<div class="pk" style="left:425px;top:541.350px;width:66.3px;height:17.995px"></div>
<div class="bp" style="left:334.20px;top:542.95px;width:15.01px;height:15.97px"></div>
<div class="bn" style="left:497.58px;top:542.95px;width:4.72px;height:15.97px"></div>
<div class="bn" style="left:566.83px;top:542.95px;width:6.47px;height:15.97px"></div>
<div class="bp" style="left:619px;top:542.95px;width:34.85px;height:15.97px"></div>
<div class="bp" style="left:693px;top:542.95px;width:5.59px;height:15.97px"></div>
<div class="t c" style="left:-0.8999999999999986px;top:543.05px;width:80px;font-size:11.5px">电子</div>
<div class="t c" style="left:61.400000000000006px;top:542.65px;width:90px">159995.OF</div>
<div class="t c" style="left:138.7px;top:543.05px;width:200px;font-size:11.5px">华夏国证半导体芯片ETF</div>
<div class="t r " style="left:338.8px;top:542.65px;width:80px">150.61</div>
<div class="t r red" style="left:406.5px;top:542.65px;width:80px">0.3</div>
<div class="t r " style="left:466.0px;top:542.65px;width:80px">-29.3</div>
<div class="t r " style="left:533.8px;top:542.65px;width:80px">-1.8</div>
<div class="t r " style="left:592.5px;top:542.65px;width:80px">48.8</div>
<div class="t r " style="left:664.5px;top:542.65px;width:80px">0.13</div>
<div class="a" style="left:9px;top:559.325px;width:839px;height:17.995px;background:#f0f0f0"></div>
<div class="bp" style="left:334.20px;top:560.93px;width:2.81px;height:15.97px"></div>
<div class="bn" style="left:463.30px;top:560.93px;width:1.00px;height:15.97px;background:#e8393d;border-color:#d83030"></div>
<div class="bn" style="left:496.50px;top:560.93px;width:5.80px;height:15.97px"></div>
<div class="bn" style="left:565.80px;top:560.93px;width:7.50px;height:15.97px"></div>
<div class="bp" style="left:619px;top:560.93px;width:19.77px;height:15.97px"></div>
<div class="bp" style="left:693px;top:560.93px;width:2.33px;height:15.97px"></div>
<div class="t c" style="left:-0.8999999999999986px;top:561.02px;width:80px;font-size:11.5px">医药生物</div>
<div class="t c" style="left:61.400000000000006px;top:560.62px;width:90px">512290.OF</div>
<div class="t c" style="left:138.7px;top:561.02px;width:200px;font-size:11.5px">国泰中证生物医药ETF</div>
<div class="t r " style="left:338.8px;top:560.62px;width:80px">28.21</div>
<div class="t r " style="left:406.5px;top:560.62px;width:80px">-0.5</div>
<div class="t r " style="left:466.0px;top:560.62px;width:80px">-36.4</div>
<div class="t r " style="left:533.8px;top:560.62px;width:80px">-2.1</div>
<div class="t r " style="left:592.5px;top:560.62px;width:80px">27.5</div>
<div class="t r " style="left:664.5px;top:560.62px;width:80px">0.05</div>
<div class="a" style="left:9px;top:577.300px;width:839px;height:17.995px;background:#f0f0f0"></div>
<div class="pk" style="left:425px;top:577.300px;width:66.3px;height:17.995px"></div>
<div class="bp" style="left:334.20px;top:578.90px;width:1.63px;height:15.97px"></div>
<div class="bn" style="left:496.62px;top:578.90px;width:5.68px;height:15.97px"></div>
<div class="bn" style="left:563.40px;top:578.90px;width:9.90px;height:15.97px"></div>
<div class="bp" style="left:619px;top:578.90px;width:33.51px;height:15.97px"></div>
<div class="bn" style="left:687.71px;top:578.90px;width:5.59px;height:15.97px"></div>
<div class="t c" style="left:-0.8999999999999986px;top:579.00px;width:80px;font-size:11.5px">科技</div>
<div class="t c" style="left:61.400000000000006px;top:578.60px;width:90px">159939.OF</div>
<div class="t c" style="left:138.7px;top:579.00px;width:200px;font-size:11.5px">广发中证全指信息技术ETF</div>
<div class="t r " style="left:338.8px;top:578.60px;width:80px">16.34</div>
<div class="t r red" style="left:406.5px;top:578.60px;width:80px">1.0</div>
<div class="t r " style="left:466.0px;top:578.60px;width:80px">-35.6</div>
<div class="t r " style="left:533.8px;top:578.60px;width:80px">-2.8</div>
<div class="t r " style="left:592.5px;top:578.60px;width:80px">46.9</div>
<div class="t r " style="left:664.5px;top:578.60px;width:80px">-0.13</div>
<div class="a" style="left:9px;top:595.275px;width:839px;height:17.995px;background:#f0f0f0"></div>
<div class="bp" style="left:334.20px;top:596.88px;width:1.00px;height:15.97px"></div>
<div class="bn" style="left:457.28px;top:596.88px;width:7.02px;height:15.97px"></div>
<div class="bp" style="left:502px;top:596.88px;width:8.51px;height:15.97px"></div>
<div class="bn" style="left:563.05px;top:596.88px;width:10.25px;height:15.97px"></div>
<div class="bp" style="left:619px;top:596.88px;width:43.49px;height:15.97px"></div>
<div class="bp" style="left:693px;top:596.88px;width:6.00px;height:15.97px"></div>
<div class="t c" style="left:-0.8999999999999986px;top:596.98px;width:80px;font-size:11.5px">医药生物</div>
<div class="t c" style="left:61.400000000000006px;top:596.58px;width:90px">159748.SZ</div>
<div class="t c" style="left:138.7px;top:596.98px;width:200px;font-size:11.5px">富国中证沪港深创新药产业ETF</div>
<div class="t r " style="left:338.8px;top:596.58px;width:80px">7.10</div>
<div class="t r " style="left:406.5px;top:596.58px;width:80px">-7.3</div>
<div class="t r " style="left:466.0px;top:596.58px;width:80px">54.4</div>
<div class="t r " style="left:533.8px;top:596.58px;width:80px">-2.9</div>
<div class="t r " style="left:592.5px;top:596.58px;width:80px">61.0</div>
<div class="t r " style="left:664.5px;top:596.58px;width:80px">0.14</div>
<div class="a" style="left:9px;top:613.250px;width:839px;height:17.995px;background:#f0f0f0"></div>
<div class="pk" style="left:425px;top:613.250px;width:66.3px;height:17.995px"></div>
<div class="bp" style="left:334.20px;top:614.85px;width:3.50px;height:15.97px"></div>
<div class="bp" style="left:464px;top:614.85px;width:2.05px;height:15.97px"></div>
<div class="bn" style="left:497.30px;top:614.85px;width:5.00px;height:15.97px"></div>
<div class="bn" style="left:562.71px;top:614.85px;width:10.59px;height:15.97px"></div>
<div class="bp" style="left:619px;top:614.85px;width:38.11px;height:15.97px"></div>
<div class="bp" style="left:693px;top:614.85px;width:10.07px;height:15.97px"></div>
<div class="t c" style="left:-0.8999999999999986px;top:614.95px;width:80px;font-size:11.5px">科技</div>
<div class="t c" style="left:61.400000000000006px;top:614.55px;width:90px">515000.OF</div>
<div class="t c" style="left:138.7px;top:614.95px;width:200px;font-size:11.5px">华宝中证科技龙头ETF</div>
<div class="t r " style="left:338.8px;top:614.55px;width:80px">35.11</div>
<div class="t r red" style="left:406.5px;top:614.55px;width:80px">1.9</div>
<div class="t r " style="left:466.0px;top:614.55px;width:80px">-31.1</div>
<div class="t r " style="left:533.8px;top:614.55px;width:80px">-3.0</div>
<div class="t r " style="left:592.5px;top:614.55px;width:80px">53.4</div>
<div class="t r " style="left:664.5px;top:614.55px;width:80px">0.24</div>
<div class="a" style="left:9px;top:631.225px;width:839px;height:17.995px;background:#fce4d6"></div>
<div class="pk" style="left:425px;top:631.225px;width:66.3px;height:17.995px"></div>
<div class="bp" style="left:334.20px;top:632.83px;width:1.00px;height:15.97px"></div>
<div class="bp" style="left:464px;top:632.83px;width:13.75px;height:15.97px"></div>
<div class="bn" style="left:499.49px;top:632.83px;width:2.81px;height:15.97px;background:#e8393d;border-color:#d83030"></div>
<div class="bn" style="left:562.71px;top:632.83px;width:10.59px;height:15.97px"></div>
<div class="bp" style="left:619px;top:632.83px;width:34.43px;height:15.97px"></div>
<div class="bn" style="left:692.30px;top:632.83px;width:1.00px;height:15.97px;background:#e8393d;border-color:#d83030"></div>
<div class="t c" style="left:-0.8999999999999986px;top:632.92px;width:80px;font-size:11.5px">主题</div>
<div class="t c" style="left:61.400000000000006px;top:632.52px;width:90px">516800.OF</div>
<div class="t c" style="left:138.7px;top:632.92px;width:200px;font-size:11.5px">华宝智能制造ETF</div>
<div class="t r " style="left:338.8px;top:632.52px;width:80px">2.82</div>
<div class="t r red" style="left:406.5px;top:632.52px;width:80px">14.6</div>
<div class="t r " style="left:466.0px;top:632.52px;width:80px">-16.6</div>
<div class="t r " style="left:533.8px;top:632.52px;width:80px">-3.0</div>
<div class="t r " style="left:592.5px;top:632.52px;width:80px">48.2</div>
<div class="t r " style="left:664.5px;top:632.52px;width:80px">-0.01</div>
<div class="a" style="left:9px;top:649.200px;width:839px;height:17.995px;background:#f0f0f0"></div>
<div class="pk" style="left:425px;top:649.200px;width:66.3px;height:17.995px"></div>
<div class="bp" style="left:334.20px;top:650.80px;width:8.31px;height:15.97px"></div>
<div class="bp" style="left:464px;top:650.80px;width:3.71px;height:15.97px"></div>
<div class="bp" style="left:502px;top:650.80px;width:3.73px;height:15.97px"></div>
<div class="bn" style="left:562.02px;top:650.80px;width:11.28px;height:15.97px"></div>
<div class="bp" style="left:619px;top:650.80px;width:25.29px;height:15.97px"></div>
<div class="bp" style="left:693px;top:650.80px;width:15.36px;height:15.97px"></div>
<div class="t c" style="left:-0.8999999999999986px;top:650.90px;width:80px;font-size:11.5px">医药生物</div>
<div class="t c" style="left:61.400000000000006px;top:650.50px;width:90px">515120.OF</div>
<div class="t c" style="left:138.7px;top:650.90px;width:200px;font-size:11.5px">广发中证创新药产业ETF</div>
<div class="t r " style="left:338.8px;top:650.50px;width:80px">83.34</div>
<div class="t r red" style="left:406.5px;top:650.50px;width:80px">3.7</div>
<div class="t r " style="left:466.0px;top:650.50px;width:80px">22.7</div>
<div class="t r " style="left:533.8px;top:650.50px;width:80px">-3.2</div>
<div class="t r " style="left:592.5px;top:650.50px;width:80px">35.3</div>
<div class="t r " style="left:664.5px;top:650.50px;width:80px">0.37</div>
<div class="a" style="left:9px;top:667.175px;width:839px;height:17.995px;background:#fce4d6"></div>
<div class="pk" style="left:425px;top:667.175px;width:66.3px;height:17.995px"></div>
<div class="bp" style="left:334.20px;top:668.78px;width:1.00px;height:15.97px"></div>
<div class="bn" style="left:500.97px;top:668.78px;width:1.33px;height:15.97px;background:#e8393d;border-color:#d83030"></div>
<div class="bn" style="left:561.34px;top:668.78px;width:11.96px;height:15.97px"></div>
<div class="bp" style="left:619px;top:668.78px;width:23.52px;height:15.97px"></div>
<div class="bn" style="left:689.74px;top:668.78px;width:3.56px;height:15.97px"></div>
<div class="t c" style="left:-0.8999999999999986px;top:668.88px;width:80px;font-size:11.5px">主题</div>
<div class="t c" style="left:61.400000000000006px;top:668.48px;width:90px">515250.SH</div>
<div class="t c" style="left:138.7px;top:668.88px;width:200px;font-size:11.5px">富国中证智能汽车主题ETF</div>
<div class="t r " style="left:338.8px;top:668.48px;width:80px">6.18</div>
<div class="t r red" style="left:406.5px;top:668.48px;width:80px">1.0</div>
<div class="t r " style="left:466.0px;top:668.48px;width:80px">-6.8</div>
<div class="t r " style="left:533.8px;top:668.48px;width:80px">-3.4</div>
<div class="t r " style="left:592.5px;top:668.48px;width:80px">32.8</div>
<div class="t r " style="left:664.5px;top:668.48px;width:80px">-0.08</div>
<div class="a" style="left:9px;top:685.150px;width:839px;height:17.995px;background:#ffffff"></div>
<div class="pk" style="left:425px;top:685.150px;width:66.3px;height:17.995px"></div>
<div class="bp" style="left:334.20px;top:686.75px;width:34.50px;height:15.97px"></div>
<div class="bp" style="left:464px;top:686.75px;width:1.87px;height:15.97px"></div>
<div class="bn" style="left:498.89px;top:686.75px;width:3.41px;height:15.97px"></div>
<div class="bn" style="left:559.97px;top:686.75px;width:13.33px;height:15.97px"></div>
<div class="bp" style="left:619px;top:686.75px;width:33.65px;height:15.97px"></div>
<div class="bp" style="left:693px;top:686.75px;width:9.66px;height:15.97px"></div>
<div class="t c" style="left:-0.8999999999999986px;top:686.85px;width:80px;font-size:11.5px">指数</div>
<div class="t c" style="left:61.400000000000006px;top:686.45px;width:90px">159915.OF</div>
<div class="t c" style="left:138.7px;top:686.85px;width:200px;font-size:11.5px">易方达创业板ETF</div>
<div class="t r " style="left:338.8px;top:686.45px;width:80px">346.13</div>
<div class="t r red" style="left:406.5px;top:686.45px;width:80px">1.7</div>
<div class="t r " style="left:466.0px;top:686.45px;width:80px">-20.6</div>
<div class="t r " style="left:533.8px;top:686.45px;width:80px">-3.8</div>
<div class="t r " style="left:592.5px;top:686.45px;width:80px">47.1</div>
<div class="t r " style="left:664.5px;top:686.45px;width:80px">0.23</div>
<div class="a" style="left:9px;top:703.125px;width:839px;height:17.995px;background:#ffffff"></div>
<div class="pk" style="left:425px;top:703.125px;width:66.3px;height:17.995px"></div>
<div class="bp" style="left:334.20px;top:704.73px;width:18.98px;height:15.97px"></div>
<div class="bp" style="left:464px;top:704.73px;width:5.00px;height:15.97px"></div>
<div class="bn" style="left:496.14px;top:704.73px;width:6.16px;height:15.97px"></div>
<div class="bn" style="left:557.56px;top:704.73px;width:15.74px;height:15.97px"></div>
<div class="bp" style="left:619px;top:704.73px;width:37.54px;height:15.97px"></div>
<div class="bn" style="left:690.15px;top:704.73px;width:3.15px;height:15.97px"></div>
<div class="t c" style="left:-0.8999999999999986px;top:704.82px;width:80px;font-size:11.5px">指数</div>
<div class="t c" style="left:61.400000000000006px;top:704.42px;width:90px">159949.OF</div>
<div class="t c" style="left:138.7px;top:704.82px;width:200px;font-size:11.5px">华安创业板50ETF</div>
<div class="t r " style="left:338.8px;top:704.42px;width:80px">190.39</div>
<div class="t r red" style="left:406.5px;top:704.42px;width:80px">5.1</div>
<div class="t r " style="left:466.0px;top:704.42px;width:80px">-38.8</div>
<div class="t r " style="left:533.8px;top:704.42px;width:80px">-4.5</div>
<div class="t r " style="left:592.5px;top:704.42px;width:80px">52.6</div>
<div class="t r " style="left:664.5px;top:704.42px;width:80px">-0.07</div>
<div class="a" style="left:9px;top:721.100px;width:839px;height:17.995px;background:#fce4d6"></div>
<div class="bp" style="left:334.20px;top:722.70px;width:4.42px;height:15.97px"></div>
<div class="bn" style="left:461.88px;top:722.70px;width:2.42px;height:15.97px;background:#e8393d;border-color:#d83030"></div>
<div class="bn" style="left:497.92px;top:722.70px;width:4.38px;height:15.97px"></div>
<div class="bn" style="left:556.54px;top:722.70px;width:16.76px;height:15.97px"></div>
<div class="bp" style="left:619px;top:722.70px;width:58.10px;height:15.97px"></div>
<div class="bp" style="left:693px;top:722.70px;width:7.63px;height:15.97px"></div>
<div class="t c" style="left:-0.8999999999999986px;top:722.80px;width:80px;font-size:11.5px">主题</div>
<div class="t c" style="left:61.400000000000006px;top:722.40px;width:90px">515050.OF</div>
<div class="t c" style="left:138.7px;top:722.80px;width:200px;font-size:11.5px">华夏中证5G通信主题ETF</div>
<div class="t r " style="left:338.8px;top:722.40px;width:80px">44.31</div>
<div class="t r " style="left:406.5px;top:722.40px;width:80px">-2.3</div>
<div class="t r " style="left:466.0px;top:722.40px;width:80px">-27.0</div>
<div class="t r " style="left:533.8px;top:722.40px;width:80px">-4.8</div>
<div class="t r " style="left:592.5px;top:722.40px;width:80px">82.1</div>
<div class="t r " style="left:664.5px;top:722.40px;width:80px">0.18</div>
<div class="a" style="left:9px;top:739.075px;width:839px;height:17.995px;background:#f0f0f0"></div>
<div class="pk" style="left:425px;top:739.075px;width:66.3px;height:17.995px"></div>
<div class="bp" style="left:334.20px;top:740.68px;width:1.28px;height:15.97px"></div>
<div class="bp" style="left:464px;top:740.68px;width:3.98px;height:15.97px"></div>
<div class="bn" style="left:501.30px;top:740.68px;width:1.00px;height:15.97px;background:#e8393d;border-color:#d83030"></div>
<div class="bn" style="left:555.51px;top:740.68px;width:17.79px;height:15.97px"></div>
<div class="bp" style="left:619px;top:740.68px;width:16.94px;height:15.97px"></div>
<div class="t c" style="left:-0.8999999999999986px;top:740.77px;width:80px;font-size:11.5px">计算机</div>
<div class="t c" style="left:61.400000000000006px;top:740.38px;width:90px">515400.OF</div>
<div class="t c" style="left:138.7px;top:740.77px;width:200px;font-size:11.5px">富国中证大数据产业ETF</div>
<div class="t r " style="left:338.8px;top:740.38px;width:80px">12.88</div>
<div class="t r red" style="left:406.5px;top:740.38px;width:80px">4.0</div>
<div class="t r " style="left:466.0px;top:740.38px;width:80px">-4.1</div>
<div class="t r " style="left:533.8px;top:740.38px;width:80px">-5.1</div>
<div class="t r " style="left:592.5px;top:740.38px;width:80px">23.5</div>
<div class="t r " style="left:664.5px;top:740.38px;width:80px">0.02</div>
<div class="a" style="left:9px;top:757.050px;width:839px;height:17.995px;background:#fce4d6"></div>
<div class="pk" style="left:425px;top:757.050px;width:66.3px;height:17.995px"></div>
<div class="bp" style="left:334.20px;top:758.65px;width:16.20px;height:15.97px"></div>
<div class="bp" style="left:464px;top:758.65px;width:4.63px;height:15.97px"></div>
<div class="bp" style="left:502px;top:758.65px;width:11.38px;height:15.97px"></div>
<div class="bn" style="left:554.48px;top:758.65px;width:18.82px;height:15.97px"></div>
<div class="bp" style="left:619px;top:758.65px;width:45.05px;height:15.97px"></div>
<div class="bp" style="left:693px;top:758.65px;width:1.52px;height:15.97px"></div>
<div class="t c" style="left:-0.8999999999999986px;top:758.75px;width:80px;font-size:11.5px">主题</div>
<div class="t c" style="left:61.400000000000006px;top:758.35px;width:90px">159819.OF</div>
<div class="t c" style="left:138.7px;top:758.75px;width:200px;font-size:11.5px">易方达中证人工智能ETF</div>
<div class="t r " style="left:338.8px;top:758.35px;width:80px">162.53</div>
<div class="t r red" style="left:406.5px;top:758.35px;width:80px">4.7</div>
<div class="t r " style="left:466.0px;top:758.35px;width:80px">73.4</div>
<div class="t r " style="left:533.8px;top:758.35px;width:80px">-5.4</div>
<div class="t r " style="left:592.5px;top:758.35px;width:80px">63.2</div>
<div class="t r " style="left:664.5px;top:758.35px;width:80px">0.03</div>
<div class="a" style="left:9px;top:775.025px;width:839px;height:17.995px;background:#f0f0f0"></div>
<div class="pk" style="left:425px;top:775.025px;width:66.3px;height:17.995px"></div>
<div class="bp" style="left:334.20px;top:776.63px;width:1.50px;height:15.97px"></div>
<div class="bp" style="left:464px;top:776.63px;width:6.29px;height:15.97px"></div>
<div class="bp" style="left:502px;top:776.63px;width:10.81px;height:15.97px"></div>
<div class="bn" style="left:552.08px;top:776.63px;width:21.22px;height:15.97px"></div>
<div class="bp" style="left:619px;top:776.63px;width:33.51px;height:15.97px"></div>
<div class="bp" style="left:693px;top:776.63px;width:2.33px;height:15.97px"></div>
<div class="t c" style="left:-0.8999999999999986px;top:776.73px;width:80px;font-size:11.5px">计算机</div>
<div class="t c" style="left:61.400000000000006px;top:776.33px;width:90px">516510.OF</div>
<div class="t c" style="left:138.7px;top:776.73px;width:200px;font-size:11.5px">易方达中证云计算与大数据ETF</div>
<div class="t r " style="left:338.8px;top:776.33px;width:80px">15.09</div>
<div class="t r red" style="left:406.5px;top:776.33px;width:80px">6.5</div>
<div class="t r " style="left:466.0px;top:776.33px;width:80px">69.6</div>
<div class="t r " style="left:533.8px;top:776.33px;width:80px">-6.1</div>
<div class="t r " style="left:592.5px;top:776.33px;width:80px">46.9</div>
<div class="t r " style="left:664.5px;top:776.33px;width:80px">0.05</div>
<div class="a" style="left:9px;top:73.8px;width:416px;height:0.5px;background:#00309a"></div>
<div class="a" style="left:750px;top:73.8px;width:98px;height:0.5px;background:#00309a"></div>
<div class="a" style="left:9px;top:74.3px;width:416px;height:0.7px;background:#fff"></div>
<div class="a" style="left:491.3px;top:74.3px;width:356.7px;height:0.7px;background:#fff"></div>
<div class="ax" style="left:464px;top:74.0px;height:719.00px"></div>
<div class="ax" style="left:502px;top:74.0px;height:719.00px"></div>
<div class="ax" style="left:573px;top:74.0px;height:719.00px"></div>
<div class="ax" style="left:619px;top:74.0px;height:719.00px"></div>
<div class="ax" style="left:693px;top:74.0px;height:719.00px"></div>
<svg class="a" style="left:0;top:0" width="864" height="836" viewBox="0 0 864 836"><g fill="none" stroke="#4b5f8c" stroke-width="1.1" stroke-linejoin="round" stroke-linecap="round"><path d="M760.8,90.40 L780.0,87.30 L799.1,84.20 L818.2,77.20 L837.4,79.40"/><path d="M760.8,108.38 L780.0,105.77 L799.1,102.97 L818.2,95.07 L837.4,97.07"/><path d="M760.8,126.35 L780.0,122.25 L799.1,120.45 L818.2,114.85 L837.4,113.15"/><path d="M760.8,144.33 L780.0,142.62 L799.1,140.93 L818.2,131.33 L837.4,131.03"/><path d="M760.8,162.20 L780.0,160.20 L799.1,157.90 L818.2,150.20 L837.4,148.80"/><path d="M760.8,177.38 L780.0,179.28 L799.1,180.47 L818.2,171.38 L837.4,166.78"/><path d="M760.8,198.05 L780.0,194.85 L799.1,190.35 L818.2,184.75 L837.4,190.45"/><path d="M760.8,216.43 L780.0,210.53 L799.1,207.63 L818.2,202.93 L837.4,211.03"/><path d="M760.8,234.30 L780.0,233.40 L799.1,232.10 L818.2,224.70 L837.4,220.90"/><path d="M760.8,252.28 L780.0,245.68 L799.1,242.08 L818.2,238.68 L837.4,247.38"/><path d="M760.8,270.25 L780.0,265.95 L799.1,261.35 L818.2,256.45 L837.4,259.85"/><path d="M760.8,288.23 L780.0,282.93 L799.1,279.53 L818.2,274.62 L837.4,282.93"/><path d="M760.8,306.40 L780.0,299.40 L799.1,296.20 L818.2,292.80 L837.4,300.30"/><path d="M760.8,324.38 L780.0,318.07 L799.1,316.18 L818.2,310.78 L837.4,317.88"/><path d="M760.8,342.25 L780.0,336.25 L799.1,334.25 L818.2,328.65 L837.4,336.25"/><path d="M760.8,360.23 L780.0,354.02 L799.1,352.12 L818.2,346.52 L837.4,354.43"/><path d="M760.8,378.30 L780.0,372.10 L799.1,370.10 L818.2,364.80 L837.4,372.40"/><path d="M760.8,396.38 L780.0,391.38 L799.1,388.78 L818.2,382.78 L837.4,392.48"/><path d="M760.8,414.35 L780.0,408.05 L799.1,405.85 L818.2,400.75 L837.4,408.45"/><path d="M760.8,432.23 L780.0,425.93 L799.1,424.33 L818.2,418.63 L837.4,426.53"/><path d="M760.8,450.10 L780.0,444.80 L799.1,440.60 L818.2,436.50 L837.4,442.50"/><path d="M760.8,467.98 L780.0,461.78 L799.1,457.78 L818.2,454.68 L837.4,460.28"/><path d="M760.8,486.15 L780.0,476.35 L799.1,474.85 L818.2,472.55 L837.4,485.25"/><path d="M760.8,504.12 L780.0,502.32 L799.1,492.43 L818.2,490.73 L837.4,501.82"/><path d="M760.8,520.20 L780.0,512.50 L799.1,514.00 L818.2,508.50 L837.4,521.90"/><path d="M760.8,540.08 L780.0,531.38 L799.1,526.88 L818.2,526.27 L837.4,539.27"/><path d="M760.8,556.85 L780.0,553.75 L799.1,549.55 L818.2,544.45 L837.4,557.75"/><path d="M760.8,575.93 L780.0,574.12 L799.1,562.53 L818.2,562.33 L837.4,574.83"/><path d="M760.8,594.10 L780.0,589.60 L799.1,586.60 L818.2,580.50 L837.4,593.20"/><path d="M760.8,609.68 L780.0,608.18 L799.1,598.28 L818.2,601.18 L837.4,611.88"/><path d="M760.8,628.45 L780.0,623.95 L799.1,621.35 L818.2,616.25 L837.4,629.65"/><path d="M760.8,646.93 L780.0,643.73 L799.1,641.02 L818.2,634.43 L837.4,647.73"/><path d="M760.8,662.20 L780.0,661.40 L799.1,652.30 L818.2,654.30 L837.4,665.60"/><path d="M760.8,682.58 L780.0,679.58 L799.1,675.78 L818.2,670.38 L837.4,683.38"/><path d="M760.8,698.15 L780.0,689.75 L799.1,689.75 L818.2,688.25 L837.4,701.35"/><path d="M760.8,714.73 L780.0,706.83 L799.1,707.42 L818.2,706.02 L837.4,719.33"/><path d="M760.8,734.00 L780.0,724.70 L799.1,728.90 L818.2,724.20 L837.4,737.40"/><path d="M760.8,752.28 L780.0,751.08 L799.1,748.28 L818.2,742.38 L837.4,755.68"/><path d="M760.8,766.95 L780.0,763.55 L799.1,762.35 L818.2,759.85 L837.4,773.35"/><path d="M760.8,784.33 L780.0,780.93 L799.1,781.43 L818.2,777.93 L837.4,791.33"/></g></svg>
<div class="a" style="left:9px;top:793.50px;width:839px;height:3px;background:#1f409c"></div>
<div class="a" style="left:10px;top:806px;font-size:18.1px;line-height:24px;color:#27489c;white-space:nowrap">资料来源：Wind，申万宏源研究；注：数据对应时间为 2025/09/26-2025/10/10</div>
</body></html>
